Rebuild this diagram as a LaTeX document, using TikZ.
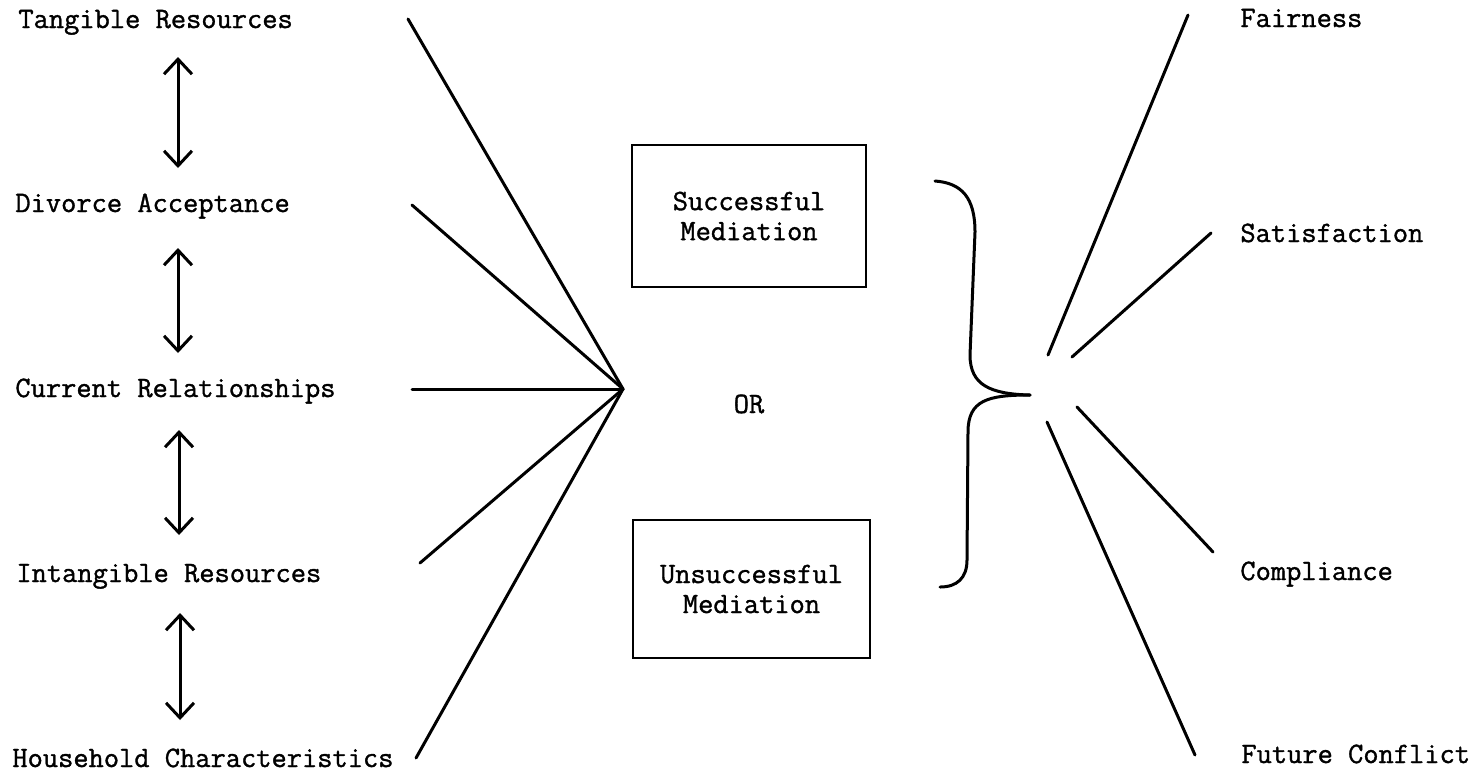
\documentclass[tikz,border=0pt]{standalone}
\usepackage{fontspec}
\newfontfamily\tw[FakeBold=1.2]{Latin Modern Mono}
\usetikzlibrary{arrows.meta}
\begin{document}
\begin{tikzpicture}[x=0.5pt,y=-0.5pt,
  lbl/.style={font=\tw\fontsize{14.8}{15}\selectfont, inner sep=0pt, anchor=base west},
  ln/.style={line width=1.5pt, line cap=round},
  dbl/.style={line width=1.5pt, {Straight Barb[length=7.5pt,width=14pt,line width=1.5pt]}-{Straight Barb[length=7.5pt,width=14pt,line width=1.5pt]}},
  box/.style={draw, line width=1.3pt, font=\tw\fontsize{14.8}{15}\selectfont, align=center, inner sep=0pt}
]
\useasboundingbox (0,0) rectangle (1481,773);
\fill[white] (0,0) rectangle (1481,773);
% left labels
\node[lbl] (tr) at (18,28) {Tangible Resources};
\node[lbl] (da) at (15,212) {Divorce Acceptance};
\node[lbl] (cr) at (15,397) {Current Relationships};
\node[lbl] (ir) at (16,582) {Intangible Resources};
\node[lbl] (hc) at (12,767) {Household Characteristics};
% arrows between labels
\coordinate (a1t) at (178,57);  \coordinate (a1b) at (178,168);
\coordinate (a2t) at (178,248); \coordinate (a2b) at (178,353);
\coordinate (a3t) at (179,430); \coordinate (a3b) at (179,535);
\coordinate (a4t) at (180,613); \coordinate (a4b) at (180,720);
\draw[dbl] (a1t) -- (a1b);
\draw[dbl] (a2t) -- (a2b);
\draw[dbl] (a3t) -- (a3b);
\draw[dbl] (a4t) -- (a4b);
% converging lines
\coordinate (c) at (623,389);
\coordinate (l1) at (408,19);
\coordinate (l2) at (412,205);
\coordinate (l3) at (412,389);
\coordinate (l4) at (420,563);
\coordinate (l5) at (416,758);
\foreach \p in {l1,l2,l3,l4,l5} \draw[ln] (\p) -- (c);
% boxes
\node[box, minimum width=117pt, minimum height=71pt] (sm) at (749,216) {Successful\\ Mediation};
\node[box, minimum width=118.5pt, minimum height=69pt] (um) at (751.5,589) {Unsuccessful\\Mediation};
\node[font=\tw\fontsize{14.8}{15}\selectfont, inner sep=0pt, anchor=base] (or) at (749,413) {OR};
% brace
\coordinate (bt) at (935,181);
\coordinate (tip) at (1030,395);
\coordinate (bb) at (940,587);
\draw[ln] (bt) .. controls (962,183) and (975,198) .. (975,232)
  -- (970,355) .. controls (970,385) and (990,394) .. (tip);
\draw[ln] (tip) .. controls (988,395) and (968,400) .. (968,432)
  -- (967,560) .. controls (967,578) and (957,587) .. (bb);
% right lines
\coordinate (f0) at (1048,355); \coordinate (f1) at (1188,15);
\coordinate (s0) at (1072,357); \coordinate (s1) at (1211,233);
\coordinate (c0) at (1077,407); \coordinate (c1) at (1213,552);
\coordinate (u0) at (1047,422); \coordinate (u1) at (1195,755);
\draw[ln] (f0) -- (f1);
\draw[ln] (s0) -- (s1);
\draw[ln] (c0) -- (c1);
\draw[ln] (u0) -- (u1);
% right labels
\node[lbl] (fa) at (1240,27) {Fairness};
\node[lbl] (sa) at (1240,242) {Satisfaction};
\node[lbl] (co) at (1240,580) {Compliance};
\node[lbl] (fc) at (1241,763) {Future Conflict};
\end{tikzpicture}
\end{document}
